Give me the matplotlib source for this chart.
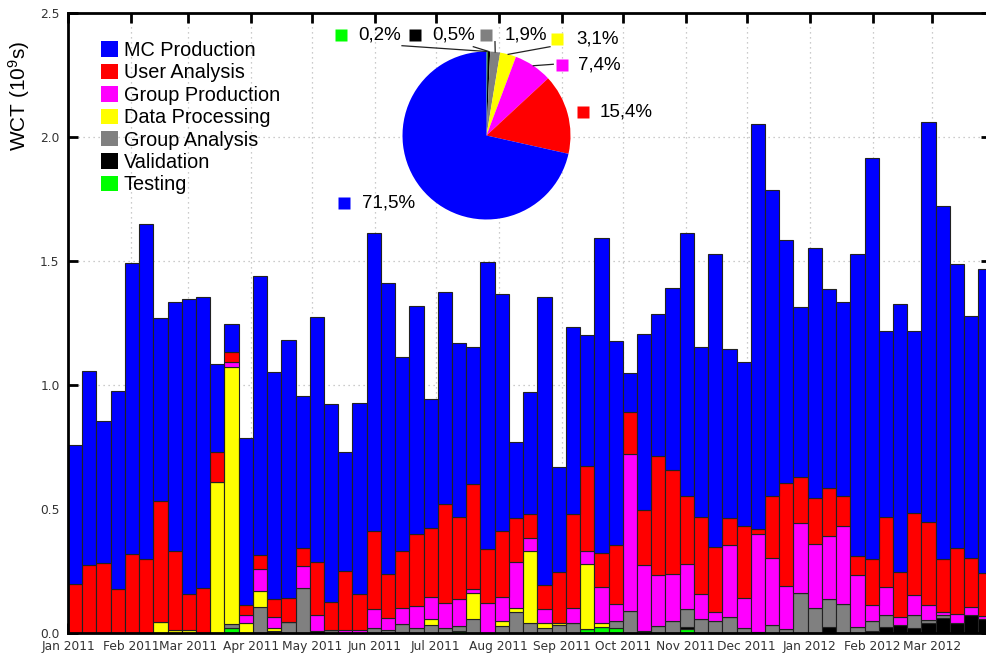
import datetime as dt
import numpy as np
import matplotlib
matplotlib.use("Agg")
import matplotlib.pyplot as plt
import matplotlib.dates as mdates
from matplotlib.patches import Patch

plt.rcParams['mathtext.fontset'] = 'custom'
plt.rcParams['mathtext.rm'] = 'Liberation Sans'
plt.rcParams['mathtext.it'] = 'Liberation Sans:italic'
plt.rcParams['mathtext.bf'] = 'Liberation Sans:bold'

activities = ["MC Production", "User Analysis", "Group Production", "Data Processing",
              "Group Analysis", "Validation", "Testing"]
colors = ["#0000ff", "#ff0000", "#ff00ff", "#ffff00", "#808080", "#000000", "#00ff00"]

# weekly wall clock time per activity (10^9 s), weeks starting 1 Jan 2011
testing = [0, 0, 0, 0, 0, 0, 0, 0, 0, 0, 0, .021, 0, 0, 0, 0, 0, 0, 0, 0,
           0, 0, 0, 0, 0, 0, 0, .008, 0, 0, 0, 0, 0, 0, 0, 0, .016, .026, .019, 0,
           0, 0, 0, .015, 0, 0, 0, 0, 0, 0, 0, 0, 0, 0, 0, 0, 0, 0, 0, 0,
           0, 0, 0, 0, 0]
validation = [0, 0, 0, 0, 0, 0, 0, 0, 0, 0, 0, 0, 0, 0, 0, 0, 0, .008, 0, 0,
              0, 0, 0, .005, 0, 0, 0, 0, 0, 0, 0, 0, 0, 0, 0, 0, 0, 0, 0, 0,
              0, 0, 0, .010, 0, 0, 0, 0, .005, 0, 0, 0, 0, .026, 0, 0, .010, .026, .032, .019,
              .042, .059, .042, .073, .058]
group_analysis = [0, 0, 0, 0, 0, 0, 0, 0, 0, 0, 0, .015, 0, .103, .008, .045, .183, 0, .014, 0,
                  0, .020, .012, .031, .021, .034, .021, .020, .055, 0, .028, .086, .039, .019, .032, .039, 0, 0, .031, .090,
                  .008, .028, .050, .070, .055, .050, .063, .021, 0, .032, .016, .163, .102, .110, .117, .026, .038, .047, 0, .054,
                  .010, .014, 0, 0, 0]
data_processing = [0, 0, 0, 0, 0, 0, .045, .012, .014, 0, .610, 1.037, .042, .066, .013, 0, 0, 0, 0, 0,
                   0, 0, 0, 0, 0, .021, 0, 0, .108, 0, .022, .016, .291, .020, .010, 0, .262, .016, 0, 0,
                   0, 0, 0, 0, 0, 0, 0, 0, 0, 0, 0, 0, 0, 0, 0, 0, 0, 0, 0, 0,
                   0, 0, 0, 0, 0]
group_production = [0, 0, 0, 0, 0, 0, 0, 0, 0, 0, 0, .020, .031, .088, .045, 0, .088, .065, 0, .012,
                    .012, .075, .050, .066, .088, .091, .099, .108, .013, .120, .096, .183, .051, .056, 0, .063, .054, .145, .067, .630,
                    .266, .206, .188, .183, .102, .033, .292, .121, .394, .269, .175, .282, .257, .256, .315, .208, .065, .114, .034, .080,
                    .061, .010, .033, .033, .010]
user_analysis = [.197, .273, .283, .176, .318, .297, .485, .320, .143, .183, .121, .040, .040, .056, .070, .096, .070, .212, .110, .238,
                 .145, .316, .176, .230, .290, .276, .400, .333, .424, .217, .265, .177, .098, .098, .202, .377, .342, .137, .238, .172,
                 .222, .480, .419, .275, .312, .265, .107, .290, .020, .252, .415, .182, .184, .191, .121, .078, .184, .282, .178, .332,
                 .333, .214, .266, .195, .175]
mc_production = [.560, .784, .572, .799, 1.174, 1.350, .738, 1.000, 1.187, 1.172, .354, .112, .674, 1.127, .914, 1.039, .615, .989, .799, .478,
                 .771, 1.202, 1.173, .781, .920, .519, .855, .701, .554, 1.159, .955, .306, .491, 1.159, .424, .755, .527, 1.266, .821, .157,
                 .709, .570, .732, 1.060, .685, 1.178, .682, .659, 1.631, 1.232, .977, .688, 1.007, .802, .779, 1.214, 1.618, .748, 1.082, .732,
                 1.614, 1.425, 1.145, .978, 1.225]

# share of total WCT, Testing first (clockwise from the top)
pie_share = [0.2, 0.5, 1.9, 3.1, 7.4, 15.4, 71.5]

start = dt.date(2011, 1, 1)
weeks = mdates.date2num([start + dt.timedelta(days=7 * i) for i in range(len(mc_production))])

fig = plt.figure(figsize=(9.87, 6.55), dpi=100)
ax = fig.add_axes([68 / 987, 1 - 633 / 655, 923 / 987, 620.5 / 655])

stack = [testing, validation, group_analysis, data_processing,
         group_production, user_analysis, mc_production]
stack_colors = colors[::-1]
bottom = np.zeros(len(weeks))
for values, c in zip(stack, stack_colors):
    values = np.array(values)
    ax.bar(weeks, values, width=7, bottom=bottom, align='edge', color=c,
           edgecolor='#222222', linewidth=0.8, zorder=2)
    bottom += values

x0 = mdates.date2num(start)
ax.set_xlim(x0, x0 + 923 / 2.032)
ax.set_ylim(0, 2.5)
ax.set_yticks(np.arange(0, 2.51, 0.5))
ax.yaxis.set_major_formatter(plt.FormatStrFormatter('%.1f'))
ax.xaxis.set_major_locator(mdates.MonthLocator())
ax.xaxis.set_major_formatter(mdates.DateFormatter('%b %Y'))

ax.tick_params(axis='both', direction='in', length=7, width=2, color='black',
               labelsize=8.8, labelcolor='#333333', top=True, right=True)
ax.tick_params(axis='x', pad=5)
ax.tick_params(axis='y', pad=6)
for s in ax.spines.values():
    s.set_linewidth(2)

ax.set_axisbelow(True)
ax.grid(True, linestyle=(0, (1, 3)), color='#bbbbbb', linewidth=0.9)

ax.set_ylabel(r'WCT (10$^{9}$s)', fontsize=15, family='Liberation Sans')
ax.yaxis.set_label_coords(-0.039, 0.865)

handles = [Patch(facecolor=c, edgecolor='none') for c in colors]
fig.legend(handles, activities, loc='upper left', bbox_to_anchor=(101 / 987, 1 - 41 / 655),
           frameon=False, borderpad=0, borderaxespad=0, handlelength=0.85, handleheight=0.82,
           handletextpad=0.3, labelspacing=0.17, prop={'family': 'Liberation Sans', 'size': 14.3})

# pie of the overall shares
pie_colors = colors[::-1]
ax_pie = fig.add_axes([(486.5 - 84) / 987, 1 - (135.5 + 84) / 655, 168 / 987, 168 / 655])
wedges, _ = ax_pie.pie(pie_share, colors=pie_colors, startangle=90, counterclock=False,
                       wedgeprops={'linewidth': 0})
ax_pie.set_xlim(-1, 1)
ax_pie.set_ylim(-1, 1)
ax_pie.axis('off')

# square x, square y, text x, leader line end (or None)
label_pos = [(-1.732, 1.196, -1.530, (-1.006, 1.069)),
             (-0.851, 1.196, -0.649, (-0.157, 1.057)),
             (-0.006, 1.196, 0.220, (0.101, 1.117)),
             (0.845, 1.149, 1.065, (0.756, 1.057)),
             (0.899, 0.839, 1.089, (0.795, 0.848)),
             (1.149, 0.280, 1.351, None),
             (-1.696, -0.798, -1.482, None)]
for w, share, c, (sx, sy, tx, lend) in zip(wedges, pie_share, pie_colors, label_pos):
    ax_pie.plot(sx, sy, 's', color=c, ms=8.6, mec='none', clip_on=False)
    ax_pie.text(tx, sy, ('%.1f%%' % share).replace('.', ','), ha='left', va='center',
                fontsize=13.5, family='Liberation Sans', clip_on=False)
    if lend is not None:
        mid = np.deg2rad((w.theta1 + w.theta2) / 2)
        ax_pie.plot([np.cos(mid), lend[0]], [np.sin(mid), lend[1]], color='#222222',
                    lw=0.9, clip_on=False)

fig.savefig('out.png', dpi=100)
